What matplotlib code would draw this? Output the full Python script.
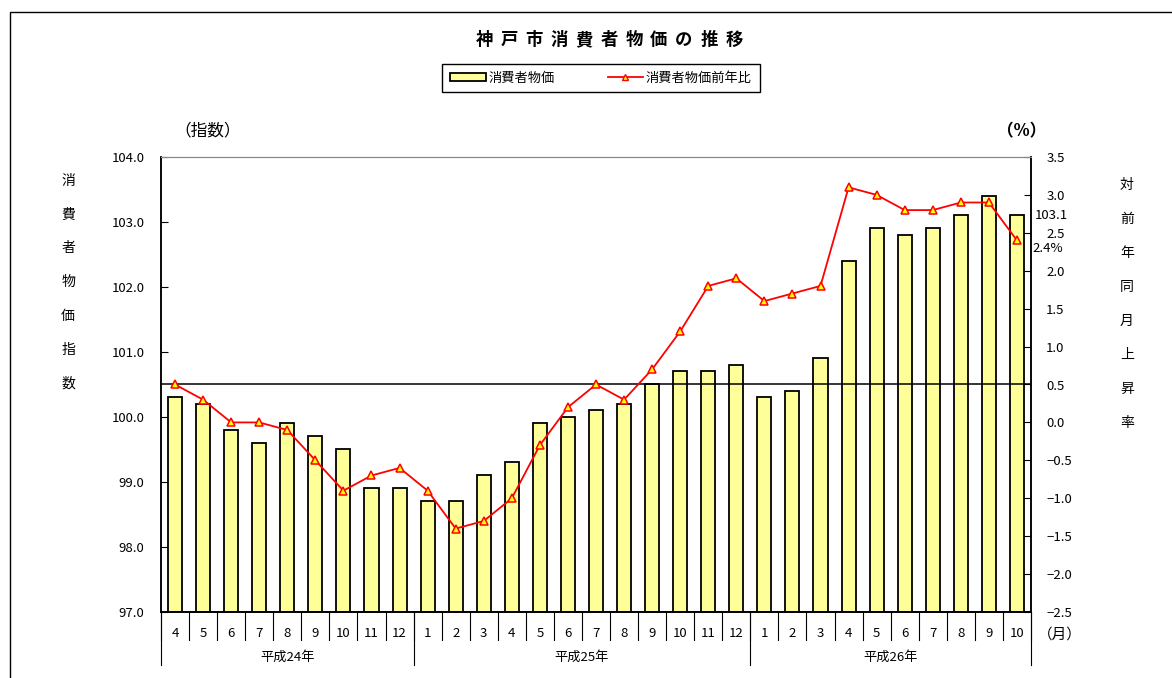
import matplotlib
matplotlib.use("Agg")
import matplotlib.pyplot as plt
from matplotlib.patches import Rectangle
from matplotlib.transforms import blended_transform_factory

plt.rcParams['font.family'] = ['Noto Sans CJK JP', 'DejaVu Sans']

months = [4, 5, 6, 7, 8, 9, 10, 11, 12,
          1, 2, 3, 4, 5, 6, 7, 8, 9, 10, 11, 12,
          1, 2, 3, 4, 5, 6, 7, 8, 9, 10]
years = ['平成24年', '平成25年', '平成26年']
year_counts = [9, 12, 10]

cpi = [100.3, 100.2, 99.8, 99.6, 99.9, 99.7, 99.5, 98.9, 98.9,
       98.7, 98.7, 99.1, 99.3, 99.9, 100.0, 100.1, 100.2, 100.5, 100.7, 100.7, 100.8,
       100.3, 100.4, 100.9, 102.4, 102.9, 102.8, 102.9, 103.1, 103.4, 103.1]
yoy = [0.5, 0.3, 0.0, 0.0, -0.1, -0.5, -0.9, -0.7, -0.6,
       -0.9, -1.4, -1.3, -1.0, -0.3, 0.2, 0.5, 0.3, 0.7, 1.2, 1.8, 1.9,
       1.6, 1.7, 1.8, 3.1, 3.0, 2.8, 2.8, 2.9, 2.9, 2.4]

left_ticks = [97.0, 98.0, 99.0, 100.0, 101.0, 102.0, 103.0, 104.0]
right_ticks = [-2.5, -2.0, -1.5, -1.0, -0.5, 0.0, 0.5, 1.0, 1.5, 2.0, 2.5, 3.0, 3.5]

FS = 9.5


def fmt(v):
    s = '{:.1f}'.format(v)
    return s.replace('-', '\u2212')


def main():
    fig = plt.figure(figsize=(11.72, 6.78), dpi=100)
    ax = fig.add_axes([161 / 1172, 1 - 612 / 678, 870 / 1172, 455 / 678])
    x = list(range(len(cpi)))

    ax.bar(x, [c - 97.0 for c in cpi], bottom=97.0, width=0.5,
           color='#FFFF99', edgecolor='black', linewidth=1.3, zorder=2)
    ax.set_xlim(-0.5, len(cpi) - 0.5)
    ax.set_ylim(97.0, 104.0)
    ax.set_yticks(left_ticks)
    ax.set_yticklabels([fmt(v) for v in left_ticks], fontsize=FS)
    ax.set_xticks([])
    ax.tick_params(axis='y', direction='in', length=5, pad=12)

    ax2 = ax.twinx()
    ax2.set_ylim(-2.5, 3.5)
    ax2.set_yticks(right_ticks)
    ax2.set_yticklabels([fmt(v) for v in right_ticks], fontsize=FS)
    ax2.tick_params(axis='y', direction='in', length=5, pad=11)
    ax2.axhline(0.5, color='black', linewidth=1.1, zorder=1)
    ax2.plot(x, yoy, color='red', linewidth=1.3, marker='^', markersize=5.5,
             markerfacecolor='#FFFF00', markeredgecolor='red', markeredgewidth=1.1)

    for a in (ax, ax2):
        a.spines['top'].set_color('#888888')
        a.spines['left'].set_linewidth(1.1)
        a.spines['right'].set_linewidth(1.1)
        a.spines['bottom'].set_linewidth(1.3)

    # end labels
    ax.text(len(cpi) - 0.5 + 0.12, cpi[-1], '{:.1f}'.format(cpi[-1]),
            fontsize=FS, ha='left', va='center')
    ax2.text(len(cpi) - 0.5 + 0.05, yoy[-1] - 0.1, '{:.1f}%'.format(yoy[-1]),
             fontsize=FS, ha='left', va='center')

    # month / year axis
    tr = blended_transform_factory(ax.transData, ax.transAxes)
    for i, m in enumerate(months):
        ax.text(i, -0.048, str(m), transform=tr, fontsize=FS,
                ha='center', va='center')
    for i in range(len(months) + 1):
        ax.plot([i - 0.5, i - 0.5], [0, -0.062], transform=tr, color='black',
                linewidth=0.8, clip_on=False)
    start = 0
    for name, n in zip(years, year_counts):
        ax.plot([start - 0.5, start - 0.5], [0, -0.117], transform=tr,
                color='black', linewidth=0.8, clip_on=False)
        ax.text(start - 0.5 + n / 2, -0.1, name, transform=tr, fontsize=FS,
                ha='center', va='center')
        start += n
    ax.plot([start - 0.5, start - 0.5], [0, -0.117], transform=tr,
            color='black', linewidth=0.8, clip_on=False)
    fig.text(1060 / 1172, 1 - 635 / 678, '（月）', fontsize=10.5,
             ha='center', va='center')

    # titles and axis captions
    for k, ch in enumerate('神戸市消費者物価の推移'):
        fig.text((484 + k * 25.0) / 1172, 1 - 40 / 678, ch,
                 fontsize=12.5, fontweight='bold', ha='center', va='center')
    fig.text(208 / 1172, 1 - 131 / 678, '（指数）', fontsize=12,
             ha='center', va='center')
    fig.text(1022 / 1172, 1 - 131 / 678, '（%）', fontsize=12,
             fontweight='bold', ha='center', va='center')
    for k, ch in enumerate('消費者物価指数'):
        fig.text(68 / 1172, 1 - (181 + k * 33.7) / 678, ch, fontsize=10,
                 ha='center', va='center')
    for k, ch in enumerate('対前年同月上昇率'):
        fig.text(1127 / 1172, 1 - (185 + k * 34) / 678, ch, fontsize=10,
                 ha='center', va='center')

    # legend
    bar_h = Rectangle((0, 0), 1, 1, facecolor='#FFFF99', edgecolor='black',
                      linewidth=1.3)
    line_h, = ax2.plot([], [], color='red', linewidth=1.3, marker='^',
                       markersize=5, markerfacecolor='#FFFF00',
                       markeredgecolor='red')
    leg = fig.legend([bar_h, line_h], ['消費者物価', '消費者物価前年比'],
                     loc='center', bbox_to_anchor=(601 / 1172, 1 - 78 / 678),
                     ncol=2, fontsize=FS, frameon=True, fancybox=False,
                     edgecolor='black', framealpha=1, columnspacing=4.0,
                     handlelength=2.7, handleheight=0.6, borderpad=0.6,
                     handletextpad=0.2, borderaxespad=0)
    leg.get_frame().set_linewidth(1.0)

    # outer frame
    fig.patches.append(Rectangle((10 / 1172, -0.1), 1.1, 1 - 12 / 678 + 0.1,
                                 transform=fig.transFigure, fill=False,
                                 edgecolor='black', linewidth=1.0))

    fig.savefig('out.png', dpi=100)


if __name__ == "__main__":
    main()
